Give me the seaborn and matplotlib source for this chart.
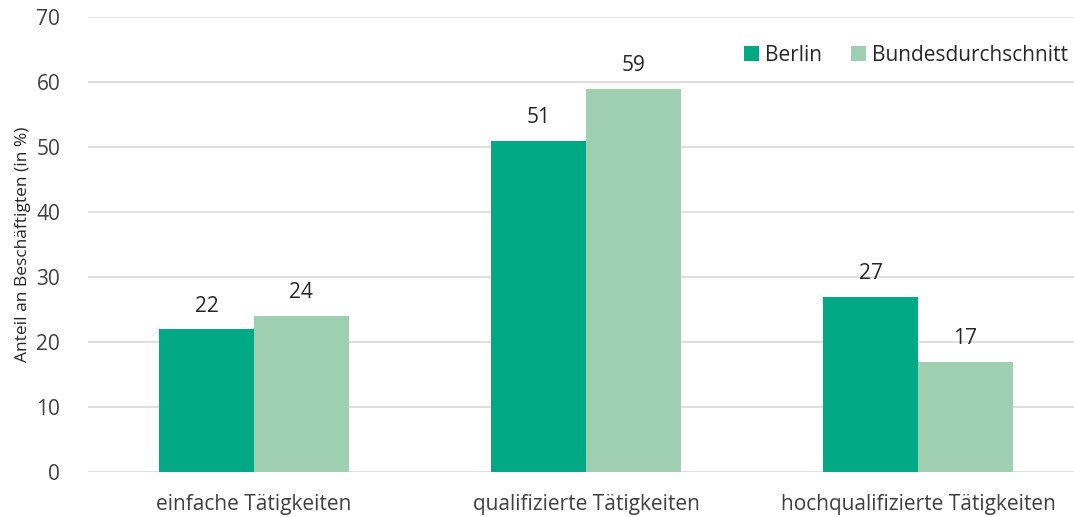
import matplotlib.pyplot as plt
import seaborn as sns
import pandas as pd

kategorien = ['einfache Tätigkeiten', 'qualifizierte Tätigkeiten', 'hochqualifizierte Tätigkeiten']
berlin = [22, 51, 27]
bund = [24, 59, 17]
serien = ['Berlin', 'Bundesdurchschnitt']
farben = ['#00A884', '#9DCFB0']

df = pd.DataFrame({
    'Kategorie': kategorien * 2,
    'Wert': berlin + bund,
    'Serie': [serien[0]] * 3 + [serien[1]] * 3,
})

sns.set_style('white')
plt.rcParams['font.family'] = ['Open Sans', 'DejaVu Sans']

fig = plt.figure(figsize=(10.74, 5.17), dpi=100)
ax = fig.add_axes([88 / 1074, 45 / 517, 996 / 1074, 455 / 517])

sns.barplot(data=df, x='Kategorie', y='Wert', hue='Serie', palette=farben,
            width=0.57, saturation=1, linewidth=0, ax=ax, zorder=3)

for cont in ax.containers:
    ax.bar_label(cont, padding=9, fontsize=15, color='#262626')

ax.set_ylim(0, 70)
ax.set_yticks(range(0, 71, 10))
ax.yaxis.grid(True, color='#D9D9D9', linewidth=1.2, zorder=0)
ax.set_axisbelow(True)
for s in ax.spines.values():
    s.set_visible(False)
ax.tick_params(axis='both', length=0, labelsize=15, labelcolor='#404040')
ax.tick_params(axis='y', pad=20)
ax.tick_params(axis='x', pad=16)
ax.set_xlabel('')
ax.set_ylabel('Anteil an Beschäftigten (in %)', fontsize=12.5, color='#262626', labelpad=4)

ax.legend(loc='upper right', bbox_to_anchor=(1.003, 0.98), ncol=2, frameon=False,
          fontsize=15, handlelength=0.7, handleheight=0.7, handletextpad=0.3,
          columnspacing=1.4, labelcolor='#262626')

fig.savefig('out.png', dpi=100)
